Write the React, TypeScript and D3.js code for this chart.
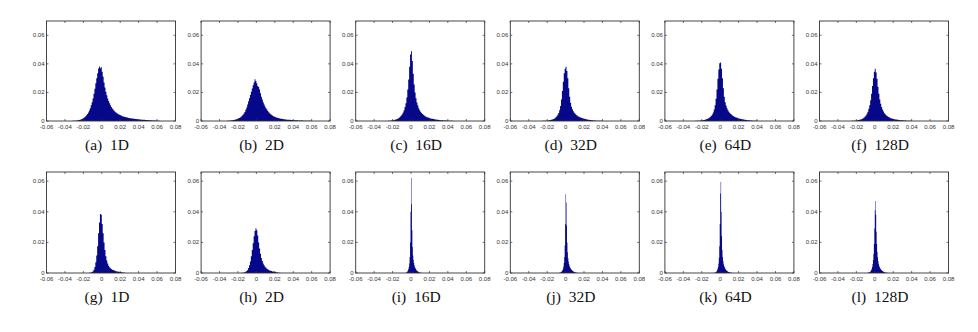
import React, { useRef, useEffect } from 'react';
import * as d3 from 'd3';

// histogram heights in thousandths (0.001), one bin per entry
const hist1D = [
  0.1, 0.1, 0.2, 0.2, 0.3, 0.4, 0.5, 0.7, 0.9, 1.1,
  1.4, 1.8, 2.2, 2.7, 3.3, 4.0, 4.9, 6.0, 7.3, 9.0,
  11.0, 13.2, 15.8, 19.0, 22.5, 26.5, 30.0, 33.5, 36.8, 38.2,
  37.0, 37.6, 34.5, 31.0, 27.0, 23.5, 20.5, 18.0, 15.8, 14.0,
  12.4, 11.0, 9.8, 8.8, 8.0, 7.2, 6.5, 6.0, 5.5, 5.0,
  4.6, 4.3, 4.0, 3.7, 3.4, 3.2, 3.0, 2.8, 2.6, 2.4,
  2.3, 2.1, 2.0, 1.9, 1.8, 1.7, 1.6, 1.5, 1.4, 1.35,
  1.3, 1.2, 1.1, 1.05, 1.0, 0.95, 0.9, 0.85, 0.8, 0.75,
  0.7, 0.65, 0.6, 0.55, 0.5, 0.45, 0.42, 0.4, 0.35, 0.3,
  0.28, 0.25, 0.2, 0.15, 0.1,
];
const hist2D = [
  0.1, 0.15, 0.2, 0.3, 0.35, 0.45, 0.6, 0.75, 0.9, 1.1,
  1.3, 1.5, 1.8, 2.1, 2.5, 3.0, 3.6, 4.3, 5.2, 6.3,
  7.8, 9.5, 11.5, 13.8, 16.0, 18.2, 20.5, 22.8, 25.0, 27.0,
  29.2, 28.0, 26.5, 24.5, 23.8, 22.0, 19.5, 17.0, 15.0, 13.2,
  11.5, 10.2, 9.0, 8.0, 7.0, 6.2, 5.5, 4.8, 4.3, 3.8,
  3.4, 3.1, 2.8, 2.5, 2.3, 2.1, 1.9, 1.75, 1.6, 1.5,
  1.4, 1.3, 1.2, 1.1, 1.0, 0.95, 0.9, 0.85, 0.8, 0.75,
  0.7, 0.65, 0.6, 0.55, 0.5, 0.5, 0.45, 0.4, 0.4, 0.35,
  0.35, 0.3, 0.3, 0.25, 0.25, 0.2, 0.2, 0.15, 0.15, 0.1, 0.1, 0.1, 0.05,
];
const hist16D = [
  0.1, 0.15, 0.2, 0.3, 0.4, 0.5, 0.6, 0.8, 1.0, 1.3,
  1.6, 2.0, 2.5, 3.1, 3.9, 4.8, 6.0, 7.6, 9.8, 12.5,
  16.5, 22.0, 29.0, 38.0, 46.5, 48.8, 42.0, 33.0, 25.5, 20.0,
  16.0, 13.0, 10.8, 9.0, 7.6, 6.5, 5.6, 4.9, 4.3, 3.8,
  3.4, 3.0, 2.7, 2.4, 2.2, 2.0, 1.8, 1.6, 1.5, 1.35,
  1.2, 1.1, 1.0, 0.9, 0.8, 0.7, 0.6, 0.55, 0.5, 0.45,
  0.4, 0.35, 0.3, 0.28, 0.25, 0.2, 0.18, 0.15, 0.12, 0.1, 0.1,
];
const hist32D = [
  0.1, 0.1, 0.15, 0.2, 0.25, 0.3, 0.4, 0.5, 0.65, 0.8,
  1.0, 1.3, 1.6, 2.0, 2.6, 3.3, 4.3, 5.6, 7.5, 10.5,
  15.0, 21.0, 27.5, 33.5, 36.5, 38.0, 35.0, 30.0, 23.0, 17.0,
  12.8, 10.0, 8.2, 6.8, 5.8, 5.0, 4.4, 3.9, 3.4, 3.0,
  2.7, 2.4, 2.1, 1.9, 1.7, 1.5, 1.35, 1.2, 1.05, 0.95,
  0.85, 0.75, 0.65, 0.55, 0.5, 0.4, 0.35, 0.3, 0.25, 0.2,
  0.15, 0.15, 0.1, 0.1, 0.1, 0.05,
];
const hist64D = [
  0.1, 0.1, 0.15, 0.2, 0.25, 0.3, 0.4, 0.5, 0.6, 0.75,
  0.9, 1.1, 1.35, 1.6, 2.0, 2.4, 3.0, 3.7, 4.6, 6.0,
  8.0, 11.0, 15.5, 22.0, 29.5, 36.0, 40.5, 41.0, 36.5, 30.0,
  23.0, 17.0, 13.2, 10.8, 9.0, 7.6, 6.5, 5.6, 4.9, 4.3,
  3.8, 3.4, 3.0, 2.7, 2.4, 2.2, 2.0, 1.8, 1.6, 1.45,
  1.3, 1.15, 1.0, 0.9, 0.8, 0.7, 0.6, 0.5, 0.45, 0.4,
  0.35, 0.3, 0.25, 0.2, 0.15, 0.15, 0.1, 0.1,
];
const hist128D = [
  0.1, 0.15, 0.2, 0.25, 0.3, 0.4, 0.5, 0.65, 0.8, 1.0,
  1.3, 1.6, 2.0, 2.5, 3.1, 3.9, 5.0, 6.5, 8.5, 11.0,
  14.5, 19.0, 24.5, 30.0, 34.5, 36.5, 34.0, 29.5, 24.0, 19.0,
  15.0, 12.0, 9.8, 8.0, 6.6, 5.5, 4.7, 4.0, 3.5, 3.0,
  2.6, 2.3, 2.0, 1.8, 1.6, 1.4, 1.25, 1.1, 1.0, 0.9,
  0.8, 0.7, 0.6, 0.55, 0.5, 0.45, 0.4, 0.35, 0.3, 0.25,
  0.2, 0.15, 0.15, 0.1, 0.1, 0.05,
];
const histG1D = [
  0.1, 0.2, 0.4, 0.7, 1.2, 2.2, 4.0, 7.0, 11.5, 17.5,
  26.0, 33.0, 38.5, 38.0, 32.0, 26.0, 20.0, 15.0, 11.0, 8.2,
  6.2, 4.8, 3.8, 3.1, 2.6, 2.2, 1.9, 1.6, 1.4, 1.2,
  1.05, 0.9, 0.8, 0.7, 0.6, 0.5, 0.4, 0.3, 0.2, 0.1,
];
const histG2D = [
  0.1, 0.2, 0.3, 0.5, 0.8, 1.3, 2.0, 3.2, 5.0, 7.5,
  11.0, 15.0, 19.5, 24.0, 27.5, 29.2, 28.0, 24.5, 20.0, 16.0,
  12.5, 9.8, 7.8, 6.2, 5.0, 4.1, 3.4, 2.8, 2.4, 2.0,
  1.7, 1.45, 1.25, 1.05, 0.9, 0.75, 0.6, 0.5, 0.4, 0.3, 0.2, 0.1,
];
const histG16D = [
  0.1, 0.2, 0.4, 0.7, 1.1, 1.7, 2.6, 4.0, 6.2, 10.5,
  20.0, 40.0, 62.0, 45.0, 28.0, 17.0, 11.5, 8.5, 6.5, 5.0,
  4.0, 3.2, 2.6, 2.1, 1.7, 1.4, 1.1, 0.9, 0.7, 0.55,
  0.4, 0.3, 0.2, 0.15, 0.1,
];
const histG32D = [
  0.1, 0.15, 0.25, 0.4, 0.6, 0.9, 1.3, 1.9, 2.8, 4.2,
  6.5, 10.5, 18.0, 32.0, 51.5, 46.0, 31.0, 20.0, 13.5, 9.8,
  7.5, 5.9, 4.8, 3.9, 3.2, 2.7, 2.3, 1.9, 1.6, 1.35,
  1.1, 0.9, 0.75, 0.6, 0.5, 0.4, 0.3, 0.2, 0.15, 0.1,
];
const histG64D = [
  0.1, 0.15, 0.2, 0.3, 0.5, 0.8, 1.2, 1.8, 2.7, 4.0,
  6.2, 10.0, 17.5, 32.0, 52.0, 59.5, 40.0, 24.0, 15.0, 10.5,
  7.8, 6.0, 4.8, 3.9, 3.2, 2.6, 2.2, 1.8, 1.5, 1.25,
  1.0, 0.85, 0.7, 0.55, 0.45, 0.35, 0.25, 0.2, 0.15, 0.1,
];
const histG128D = [
  0.1, 0.15, 0.25, 0.35, 0.5, 0.7, 1.0, 1.4, 2.0, 2.8,
  4.0, 5.8, 8.5, 12.5, 19.0, 29.0, 41.0, 47.0, 38.0, 27.0,
  19.0, 13.8, 10.2, 7.8, 6.1, 4.9, 4.0, 3.3, 2.8, 2.3,
  1.9, 1.6, 1.35, 1.1, 0.9, 0.75, 0.6, 0.45, 0.35, 0.25,
  0.2, 0.15, 0.1, 0.1,
];

const topHists = [hist1D, hist2D, hist16D, hist32D, hist64D, hist128D];
const topStarts = [-0.032, -0.032, -0.025, -0.025, -0.027, -0.025];
const topBins = [0.001, 0.001, 0.001, 0.001, 0.001, 0.001];
const topCaptions = ['(a)  1D', '(b)  2D', '(c)  16D', '(d)  32D', '(e)  64D', '(f)  128D'];

const bottomHists = [histG1D, histG2D, histG16D, histG32D, histG64D, histG128D];
const bottomStarts = [-0.014, -0.016, -0.006, -0.007, -0.007, -0.008];
const bottomBins = [0.001, 0.001, 0.0005, 0.0005, 0.0005, 0.0005];
const bottomCaptions = ['(g)  1D', '(h)  2D', '(i)  16D', '(j)  32D', '(k)  64D', '(l)  128D'];

const xTicks = [-0.06, -0.04, -0.02, 0, 0.02, 0.04, 0.06, 0.08];
const xTickLabels = ['-0.06', '-0.04', '-0.02', '0', '0.02', '0.04', '0.06', '0.08'];
const yTicks = [0, 0.02, 0.04, 0.06];
const yTickLabels = ['0', '0.02', '0.04', '0.06'];

export default function App() {
  const ref = useRef<SVGSVGElement>(null);

  useEffect(() => {
    if (!ref.current) return;
    const svg = d3.select(ref.current);
    svg.selectAll('*').remove();

    const left0 = 46.5;
    const step = 154.6;
    const w = 129;

    const rows = [
      { hists: topHists, starts: topStarts, bins: topBins, caps: topCaptions, top: 21, bottom: 121, ymax: 0.07 },
      { hists: bottomHists, starts: bottomStarts, bins: bottomBins, caps: bottomCaptions, top: 172, bottom: 273, ymax: 0.066 },
    ];

    rows.forEach((row) => {
      row.hists.forEach((hist, i) => {
        const left = left0 + i * step;
        const x = d3.scaleLinear().domain([-0.06, 0.08]).range([left, left + w]);
        const y = d3.scaleLinear().domain([0, row.ymax]).range([row.bottom, row.top]);
        const g = svg.append('g');
        const bw = row.bins[i];
        const start = row.starts[i];

        // bars as one stepped shape so neighbouring bins don't leave seams
        const pts = hist.map((v, j) => ({ x0: start + j * bw, v }));
        pts.push({ x0: start + hist.length * bw, v: 0 });
        const area = d3.area<{ x0: number; v: number }>()
          .x((d) => x(d.x0))
          .y0(row.bottom)
          .y1((d) => y(d.v / 1000))
          .curve(d3.curveStepAfter);
        g.append('path')
          .attr('d', area(pts))
          .attr('fill', '#07078a');

        // frame
        g.append('rect')
          .attr('x', left)
          .attr('y', row.top)
          .attr('width', w)
          .attr('height', row.bottom - row.top)
          .attr('fill', 'none')
          .attr('stroke', '#333')
          .attr('stroke-width', 0.9);

        // ticks (inside, all four sides)
        xTicks.forEach((t) => {
          g.append('line').attr('x1', x(t)).attr('x2', x(t)).attr('y1', row.bottom).attr('y2', row.bottom - 2)
            .attr('stroke', '#333').attr('stroke-width', 0.7);
          g.append('line').attr('x1', x(t)).attr('x2', x(t)).attr('y1', row.top).attr('y2', row.top + 2)
            .attr('stroke', '#333').attr('stroke-width', 0.7);
        });
        yTicks.forEach((t) => {
          g.append('line').attr('x1', left).attr('x2', left + 2).attr('y1', y(t)).attr('y2', y(t))
            .attr('stroke', '#333').attr('stroke-width', 0.7);
          g.append('line').attr('x1', left + w).attr('x2', left + w - 2).attr('y1', y(t)).attr('y2', y(t))
            .attr('stroke', '#333').attr('stroke-width', 0.7);
        });

        // tick labels
        g.selectAll('text.xl')
          .data(xTicks)
          .enter()
          .append('text')
          .attr('x', (d) => x(d))
          .attr('y', row.bottom + 7.5)
          .attr('text-anchor', 'middle')
          .attr('font-family', 'Liberation Sans, Arial, sans-serif')
          .attr('font-size', '6px')
          .attr('fill', '#333')
          .text((_, j) => xTickLabels[j]);

        g.selectAll('text.yl')
          .data(yTicks)
          .enter()
          .append('text')
          .attr('x', left - 2)
          .attr('y', (d) => y(d) + 2)
          .attr('text-anchor', 'end')
          .attr('font-family', 'Liberation Sans, Arial, sans-serif')
          .attr('font-size', '6px')
          .attr('fill', '#333')
          .text((_, j) => yTickLabels[j]);

        // caption
        g.append('text')
          .attr('x', left + w / 2 - 4)
          .attr('y', row.bottom + 28.5)
          .attr('text-anchor', 'middle')
          .attr('font-family', 'Liberation Serif, Times New Roman, serif')
          .attr('font-size', '15.5px')
          .attr('fill', '#111')
          .style('white-space', 'pre')
          .text(row.caps[i]);
      });
    });
  }, []);

  return (
    <svg
      ref={ref}
      width={978}
      height={332}
      style={{ position: 'absolute', left: 0, top: 0, background: '#fff' }}
    />
  );
}
